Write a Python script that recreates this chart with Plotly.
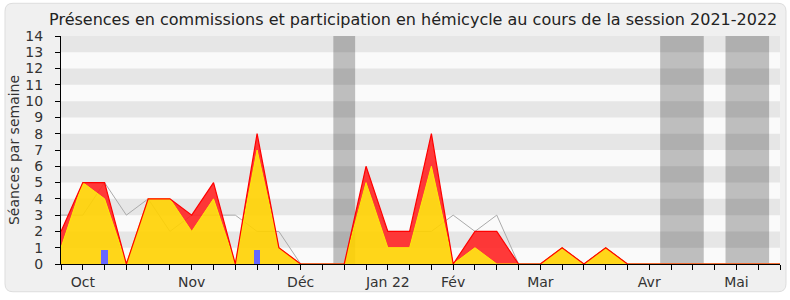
import plotly.graph_objects as go

# ---- data (week index 0..33, session 2021-2022) ----
weeks = list(range(34))
commission_total = [2, 5, 5, 0, 4, 4, 3, 5, 0, 8, 1, 0, 0, 0, 6, 2, 2, 8, 0, 2, 2, 0,
                    0, 1, 0, 1, 0, 0, 0, 0, 0, 0, 0, 0]
hemicycle = [1, 5, 4, 0, 4, 4, 2, 4, 0, 7, 1, 0, 0, 0, 5, 1, 1, 6, 0, 1, 0, 0,
             0, 1, 0, 1, 0, 0, 0, 0, 0, 0, 0, 0]
mediane = [3, 3, 5, 3, 4, 2, 3, 3, 3, 2, 2, 0, 0, 0, 5, 2, 2, 2, 3, 2, 3, 0,
           0, 1, 0, 1, 0, 0, 0, 0, 0, 0, 0, 0]
question_weeks = [2, 9]
question_values = [0.85, 0.85]
vacation_ranges = [(12.5, 13.5), (27.5, 29.5), (30.5, 32.5)]
month_weeks = [1, 6, 11, 15, 18, 22, 27, 31]
month_labels = ["Oct", "Nov", "Déc", "Jan 22", "Fév", "Mar", "Avr", "Mai"]
y_max = 14

FONT = "DejaVu Sans"
TXT = "#333333"

ticktext = []
for w in weeks:
    ticktext.append(month_labels[month_weeks.index(w)] if w in month_weeks else "")

fig = go.Figure()

# median (thin gray line) under the fills
fig.add_trace(go.Scatter(x=weeks, y=mediane, mode="lines",
                         line=dict(color="#aaaaaa", width=1), hoverinfo="skip",
                         showlegend=False))
# hemicycle (yellow) area
fig.add_trace(go.Scatter(x=weeks, y=hemicycle, mode="lines", fill="tozeroy",
                         fillcolor="rgba(255,210,0,0.9)",
                         line=dict(color="#ffea00", width=1), showlegend=False))
# commission (red) area stacked above the yellow
fig.add_trace(go.Scatter(x=weeks, y=commission_total, mode="lines", fill="tonexty",
                         fillcolor="rgba(255,35,35,0.9)",
                         line=dict(color="#ff0000", width=1.2), showlegend=False))
# questions (blue bars) on an overlaid axis so they sit on top
fig.add_trace(go.Bar(x=question_weeks, y=question_values, width=0.3,
                     marker=dict(color="#6666ff", line=dict(width=0)),
                     xaxis="x2", yaxis="y2", showlegend=False))

shapes = []
# outer rounded frame
pw, ph = 719.0, 230.0
x0, x1 = (5 - 61) / pw, (786 - 61) / pw
y0, y1 = (266 - 294) / ph, (266 - 3) / ph
rx, ry = 8 / pw, 8 / ph
path = (f"M {x0+rx},{y0} L {x1-rx},{y0} Q {x1},{y0} {x1},{y0+ry} "
        f"L {x1},{y1-ry} Q {x1},{y1} {x1-rx},{y1} L {x0+rx},{y1} "
        f"Q {x0},{y1} {x0},{y1-ry} L {x0},{y0+ry} Q {x0},{y0} {x0+rx},{y0} Z")
shapes.append(dict(type="path", path=path, xref="paper", yref="paper",
                   fillcolor="#f0f0f0", line=dict(color="#dddddd", width=1),
                   layer="below"))
# plot area background
shapes.append(dict(type="rect", xref="paper", yref="paper", x0=0, x1=1, y0=0, y1=1,
                   fillcolor="#fafafa", line=dict(width=0), layer="below"))
# vacation bands
for a, b in vacation_ranges:
    shapes.append(dict(type="rect", xref="x", yref="paper", x0=a, x1=b, y0=0, y1=1,
                       fillcolor="#bebebe", line=dict(width=0), layer="below"))
# alternating horizontal stripes
for k in range(1, y_max, 2):
    shapes.append(dict(type="rect", xref="paper", yref="y", x0=0, x1=1, y0=k, y1=k + 1,
                       fillcolor="rgba(0,0,0,0.08)", line=dict(width=0), layer="below"))

fig.update_layout(
    width=790, height=300,
    margin=dict(l=61, r=10, t=36, b=34),
    paper_bgcolor="white",
    plot_bgcolor="#fafafa",
    font=dict(family=FONT, size=14, color=TXT),
    title=dict(text="Présences en commissions et participation en hémicycle au cours de la session 2021-2022",
               x=0.523, xanchor="center", y=0.935, yanchor="middle",
               font=dict(family=FONT, size=16, color="#222222")),
    shapes=shapes,
    xaxis=dict(range=[0, 33], tickmode="array", tickvals=weeks, ticktext=ticktext,
               ticks="outside", ticklen=5, tickcolor="#000", showgrid=False,
               zeroline=False, showline=True, linecolor="#000", linewidth=1,
               tickfont=dict(size=14, color=TXT)),
    yaxis=dict(range=[0, y_max], tickmode="linear", tick0=0, dtick=1,
               ticks="outside", ticklen=5, tickcolor="#000", showgrid=False,
               zeroline=False, showline=True, linecolor="#000", linewidth=1,
               tickfont=dict(size=14, color=TXT), ticklabelstandoff=9,
               title=dict(text="Séances par semaine", standoff=2,
                          font=dict(size=14, color=TXT))),
    xaxis2=dict(range=[0, 33], overlaying="x", visible=False),
    yaxis2=dict(range=[0, y_max], overlaying="y", visible=False),
    bargap=0,
)

fig.write_html("out.html")
